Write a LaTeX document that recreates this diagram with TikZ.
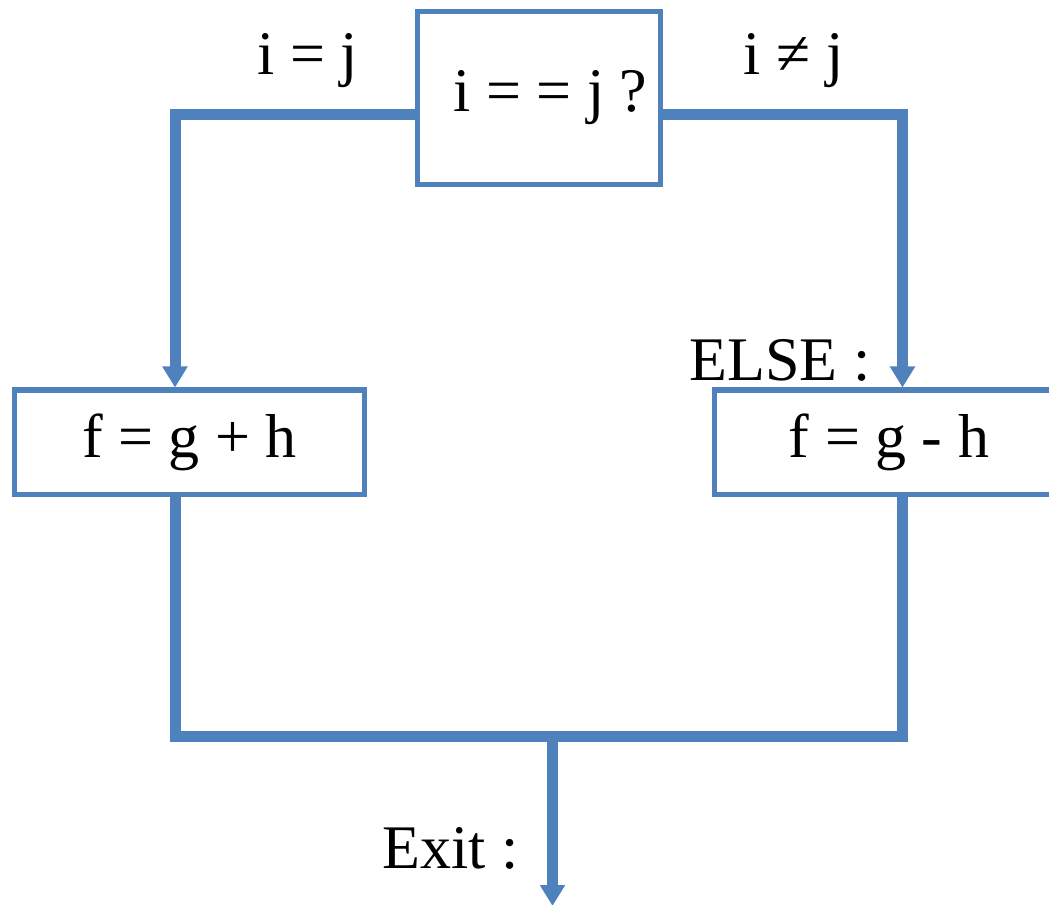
\documentclass[tikz,border=0pt]{standalone}
\usepackage{fontspec}
\setmainfont{Liberation Serif}
\usetikzlibrary{arrows.meta}
\definecolor{flowblue}{HTML}{4F81BD}
\tikzset{
  flowbox/.style={draw=flowblue, line width=3.75pt, fill=white, inner sep=0pt,
    font=\fontsize{46.5pt}{50pt}\selectfont, text=black},
  flowline/.style={draw=flowblue, line width=8.25pt},
  flowarrow/.style={flowline, -{Triangle[width=18pt,length=15.75pt]}},
  flowlabel/.style={inner sep=0pt, anchor=base, font=\fontsize{46.5pt}{50pt}\selectfont}
}
\begin{document}
\begin{tikzpicture}[x=0.75pt,y=-0.75pt]
\useasboundingbox (0,0) rectangle (1049,905);
\clip (0,0) rectangle (1049,905);
% boxes
\node[flowbox, minimum width={243*0.75pt}, minimum height={173*0.75pt}] (test) at (539,98) {\hspace*{17pt}i = = j ?};
\node[flowbox, minimum width={350*0.75pt}, minimum height={104*0.75pt}] (plus) at (189.5,442) {f = g + h};
\node[flowbox, minimum width={350*0.75pt}, minimum height={104*0.75pt}] (minus) at (889,442) {f = g - h};
% coordinates
\coordinate (tl) at (test.west |- 0,115);
\coordinate (tr) at (test.east |- 0,115);
\coordinate (lc) at (175,115);
\coordinate (rc) at (902.5,115);
\coordinate (lb) at (175,736);
\coordinate (rb) at (902.5,736);
\coordinate (mb) at (552.5,736);
\coordinate (exit) at (552.5,906);
% connectors
\draw[flowarrow] (tl) -- (lc) -- (lc |- plus.north);
\draw[flowarrow] (tr) -- (rc) -- (rc |- minus.north);
\draw[flowline, line join=miter] (lc |- plus.south) -- (lb) -- (rb) -- (rc |- minus.south);
\draw[flowarrow] (mb) -- (exit);
% labels
\node[flowlabel] (eq) at (308,75) {i = j};
\node[flowlabel] (neq) at (793.5,75) {i ≠ j};
\node[flowlabel] (else) at (780,380) {ELSE :};
\node[flowlabel] (exitl) at (450.5,868) {Exit :};
\end{tikzpicture}
\end{document}
